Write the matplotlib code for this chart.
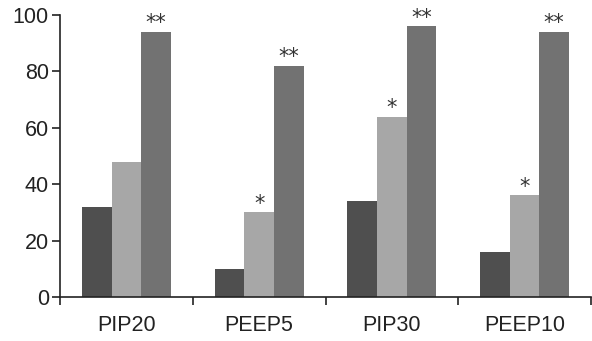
import matplotlib.pyplot as plt
import numpy as np

categories = ['PIP20', 'PEEP5', 'PIP30', 'PEEP10']
dark = [32, 10, 34, 16]
light = [48, 30, 64, 36]
medium = [94, 82, 96, 94]
light_marks = ['', '*', '*', '*']
medium_marks = ['**', '**', '**', '**']

plt.rcParams['font.family'] = ['Liberation Sans', 'DejaVu Sans']

fig = plt.figure(figsize=(5.92, 3.41), dpi=100)
ax = fig.add_axes([60 / 592, 1 - 297 / 341, 531 / 592, 282 / 341])

x = np.arange(len(categories))
w = 0.223
ax.bar(x - w, dark, w, color='#4f4f4f')
b2 = ax.bar(x, light, w, color='#a7a7a7')
b3 = ax.bar(x + w, medium, w, color='#727272')

for bars, marks in [(b2, light_marks), (b3, medium_marks)]:
    for rect, m in zip(bars, marks):
        if m:
            ax.annotate(m, (rect.get_x() + rect.get_width() / 2, rect.get_height()),
                        xytext=(0, -1), textcoords='offset points',
                        ha='center', va='bottom', fontsize=15, color='#333333',
                        family='DejaVu Sans')

ax.set_xlim(-0.5, len(categories) - 0.5)
ax.set_ylim(0, 100)
ax.set_yticks([0, 20, 40, 60, 80, 100])
ax.set_xticks(x)
ax.set_xticklabels(categories)
ax.set_xticks(np.arange(len(categories) + 1) - 0.5, minor=True)
ax.tick_params(axis='x', which='major', length=0, pad=13, labelsize=15.5, colors='#222222')
ax.tick_params(axis='x', which='minor', length=6, width=1.2, color='#222222', direction='out')
ax.tick_params(axis='y', length=6, width=1.2, pad=2, labelsize=15.5, colors='#222222')

for s in ['top', 'right']:
    ax.spines[s].set_visible(False)
for s in ['left', 'bottom']:
    ax.spines[s].set_linewidth(1.2)
    ax.spines[s].set_color('#222222')

fig.savefig('out.png', dpi=100)
